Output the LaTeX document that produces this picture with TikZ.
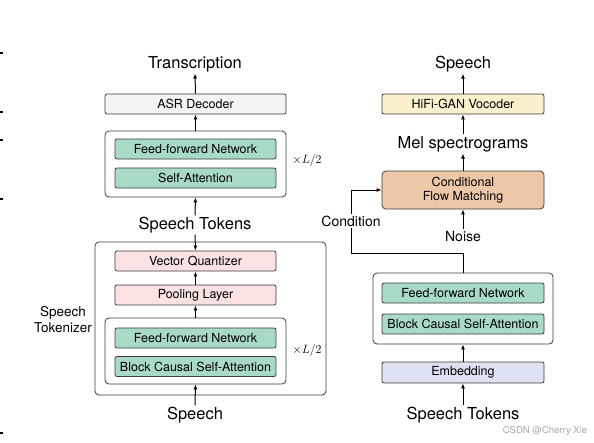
\documentclass[tikz,border=0pt]{standalone}
\usepackage{fontspec}
\setmainfont{TeX Gyre Heros}
\usepackage{amsmath,amssymb}
\usetikzlibrary{positioning,calc,arrows.meta}
\definecolor{BlockTeal}{RGB}{168,218,198}
\definecolor{BlockPink}{RGB}{250,226,226}
\definecolor{BlockTan}{RGB}{236,200,168}
\definecolor{BlockCream}{RGB}{250,240,205}
\definecolor{BlockLavender}{RGB}{221,226,242}
\definecolor{BlockGray}{RGB}{243,243,243}
\definecolor{EdgeGray}{RGB}{60,60,60}

\begin{document}
\begin{tikzpicture}[
    x=1pt, y=-1pt,
    >={Latex[length=5pt,width=4pt]},
    layerbox/.style={
        draw=EdgeGray,
        rounded corners=2pt,
        line width=0.8pt,
        align=center,
        inner sep=0pt,
        minimum width=161pt,
        minimum height=20pt,
        font=\fontsize{12.5}{14.5}\selectfont
    },
    outerbox/.style={
        draw=EdgeGray,
        rounded corners=4pt,
        line width=0.8pt,
        inner sep=0pt,
        fill=white
    },
    biglabel/.style={
        inner sep=1.5pt,
        font=\fontsize{16.5}{19}\selectfont
    },
    midlabel/.style={
        inner sep=1.5pt,
        align=center,
        font=\fontsize{14}{16}\selectfont
    },
    replabel/.style={
        inner sep=0pt,
        font=\fontsize{12}{14}\selectfont
    },
    arrow/.style={
        ->,
        line width=1pt,
        draw=black
    }
]
\useasboundingbox (0,0) rectangle (594,442);

% small marks on the left edge
\foreach \ty in {53,112,140,199,433}
    \draw[line width=1.2pt] (0,\ty) -- (3,\ty);

% =========================
% left: speech tokenizer + ASR
% =========================
\node[biglabel] (trans) at (195,64) {Transcription};
\node[layerbox, minimum width=181pt, fill=BlockGray] (asr) at (195.5,104) {ASR Decoder};

\node[outerbox, minimum width=181pt, minimum height=66pt] (asrenc) at (195.5,164) {};
\node[layerbox, fill=BlockTeal] (asrffn) at (195.5,149) {Feed-forward Network};
\node[layerbox, fill=BlockTeal] (asrsa) at (195.5,178) {Self-Attention};
\node[replabel] (asrrep) at (307,160) {$\times L/2$};

\node[biglabel] (tok) at (195,225) {Speech Tokens};

\node[outerbox, fill=none, minimum width=231pt, minimum height=153pt] (tokenizer) at (210.5,318.5) {};
\node[layerbox, fill=BlockPink] (vq) at (195.5,261) {Vector Quantizer};
\node[layerbox, fill=BlockPink] (pool) at (195.5,295) {Pooling Layer};

\node[outerbox, minimum width=181pt, minimum height=66pt] (tokenc) at (195.5,351) {};
\node[layerbox, fill=BlockTeal] (tokffn) at (195.5,338) {Feed-forward Network};
\node[layerbox, fill=BlockTeal] (tokbcsa) at (195.5,366.5) {Block Causal Self-Attention};
\node[replabel] (tokrep) at (307,350) {$\times L/2$};

\node[midlabel, font=\fontsize{13.5}{16}\selectfont] (toklabel) at (63,320) {Speech\\Tokenizer};
\node[biglabel] (speechin) at (195,415) {Speech};

\draw[arrow] (asr.north) -- (trans.south);
\draw[arrow] (asrenc.north) -- (asr.south);
\draw[arrow] (tok.north) -- (asrenc.south);
\draw[arrow] (tok.south) -- (vq.north);
\draw[arrow] (pool.north) -- (vq.south);
\draw[arrow] (tokenc.north) -- (pool.south);
\draw[arrow] (speechin.north) -- (tokenc.south);

% =========================
% right: token-to-speech
% =========================
\node[biglabel] (speechout) at (463,64) {Speech};
\node[layerbox, minimum width=162pt, fill=BlockCream] (vocoder) at (463,104) {HiFi-GAN Vocoder};
\node[biglabel] (mel) at (463,144) {Mel spectrograms};
\node[layerbox, minimum width=162pt, minimum height=38pt, rounded corners=4pt, fill=BlockTan] (cfm) at (463,190) {Conditional\\Flow Matching};

\node[midlabel] (cond) at (351,221) {Condition};
\node[midlabel] (noise) at (463,236) {Noise};
\coordinate (cturn) at (351,253);

\node[outerbox, minimum width=180pt, minimum height=71pt] (t2senc) at (463,308.5) {};
\node[layerbox, minimum width=162pt, fill=BlockTeal] (t2sffn) at (463,293) {Feed-forward Network};
\node[layerbox, minimum width=162pt, fill=BlockTeal] (t2sbcsa) at (463,324) {Block Causal Self-Attention};
\node[layerbox, minimum width=162pt, minimum height=21pt, fill=BlockLavender] (emb) at (463,372.5) {Embedding};
\node[biglabel] (tokin) at (463,415) {Speech Tokens};

\draw[arrow] (vocoder.north) -- (speechout.south);
\draw[arrow] (mel.north) -- (vocoder.south);
\draw[arrow] (cfm.north) -- (mel.south);
\draw[arrow] (noise.north) -- (cfm.south);
\draw[line width=1pt] (t2senc.north) |- (cturn) -- (cond.south);
\draw[arrow] (cond.north) |- (cfm.west);
\draw[arrow] (emb.north) -- (t2senc.south);
\draw[arrow] (tokin.north) -- (emb.south);

% watermark
\node[text=black!35, inner sep=0pt, font=\fontsize{9.5}{10}\selectfont] (mark) at (545,431) {CSDN @Cherry Xie};

\end{tikzpicture}
\end{document}
